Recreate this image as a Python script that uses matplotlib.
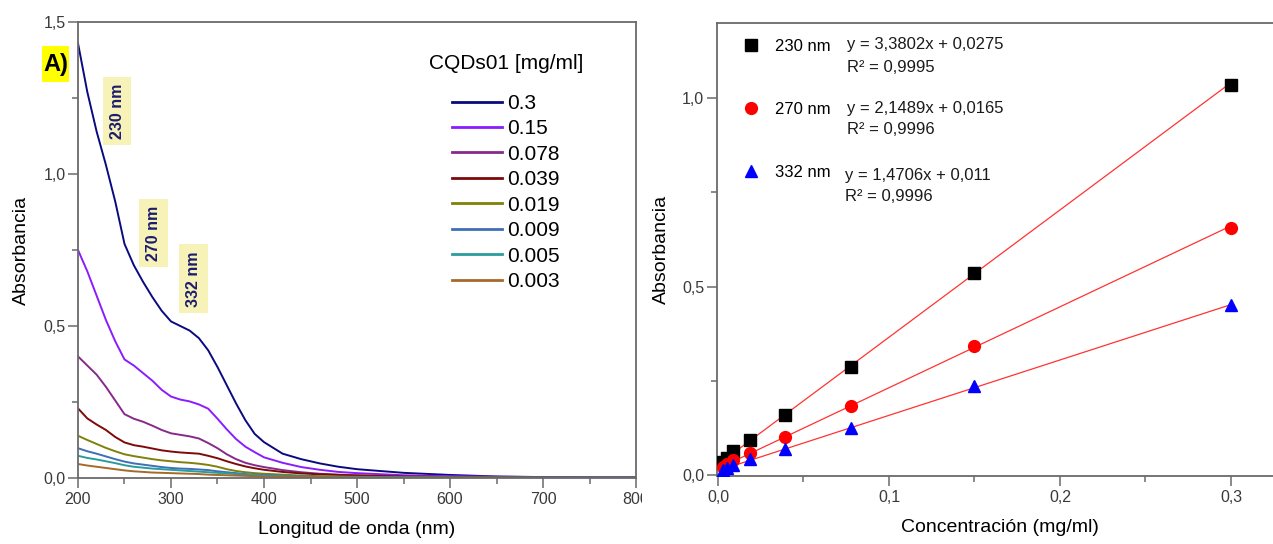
import matplotlib
matplotlib.use("Agg")
import numpy as np
import matplotlib.pyplot as plt
from matplotlib.ticker import MultipleLocator, FuncFormatter
from matplotlib.patches import Rectangle

plt.rcParams['font.family'] = ['Liberation Sans', 'DejaVu Sans']

# ---------------- UV-Vis spectra ----------------
wavelength = [200, 210, 220, 230, 240, 250, 260, 270, 280, 290, 300, 310, 320, 330,
              340, 350, 360, 370, 380, 390, 400, 420, 440, 460, 480, 500, 550, 600,
              650, 700, 750, 800]

abs_0300 = [1.43, 1.27, 1.14, 1.03, 0.91, 0.77, 0.70, 0.645, 0.595, 0.55, 0.515, 0.50,
            0.485, 0.46, 0.42, 0.365, 0.305, 0.245, 0.19, 0.145, 0.118, 0.080, 0.062,
            0.048, 0.037, 0.029, 0.017, 0.010, 0.005, 0.003, 0.002, 0.002]
abs_0150 = [0.75, 0.68, 0.60, 0.52, 0.45, 0.39, 0.37, 0.345, 0.32, 0.29, 0.268, 0.258,
            0.252, 0.242, 0.228, 0.195, 0.16, 0.128, 0.103, 0.085, 0.068, 0.050, 0.036,
            0.027, 0.020, 0.016, 0.009, 0.006, 0.004, 0.003, 0.002, 0.002]
abs_0078 = [0.40, 0.37, 0.34, 0.30, 0.255, 0.21, 0.195, 0.185, 0.172, 0.158, 0.147, 0.142,
            0.137, 0.13, 0.115, 0.098, 0.078, 0.062, 0.050, 0.042, 0.036, 0.026, 0.019,
            0.014, 0.011, 0.009, 0.005, 0.003, 0.002, 0.002, 0.001, 0.001]
abs_0039 = [0.229, 0.196, 0.176, 0.158, 0.135, 0.117, 0.108, 0.103, 0.097, 0.091, 0.087,
            0.084, 0.082, 0.080, 0.073, 0.065, 0.055, 0.046, 0.038, 0.032, 0.027, 0.020,
            0.015, 0.012, 0.010, 0.008, 0.005, 0.003, 0.002, 0.001, 0.001, 0.001]
abs_0019 = [0.139, 0.125, 0.112, 0.099, 0.088, 0.078, 0.072, 0.067, 0.062, 0.058, 0.055,
            0.052, 0.050, 0.047, 0.043, 0.037, 0.029, 0.023, 0.019, 0.016, 0.014, 0.011,
            0.008, 0.006, 0.005, 0.004, 0.003, 0.002, 0.001, 0.001, 0.001, 0.001]
abs_0009 = [0.098, 0.088, 0.080, 0.071, 0.062, 0.054, 0.048, 0.044, 0.040, 0.036, 0.033,
            0.031, 0.030, 0.028, 0.026, 0.022, 0.019, 0.016, 0.013, 0.011, 0.010, 0.007,
            0.005, 0.004, 0.003, 0.003, 0.002, 0.001, 0.001, 0.001, 0.001, 0.001]
abs_0005 = [0.073, 0.066, 0.061, 0.055, 0.049, 0.042, 0.037, 0.034, 0.031, 0.029, 0.027,
            0.025, 0.023, 0.021, 0.019, 0.017, 0.015, 0.013, 0.011, 0.010, 0.008, 0.006,
            0.004, 0.003, 0.003, 0.002, 0.001, 0.001, 0.001, 0.001, 0.001, 0.001]
abs_0003 = [0.046, 0.041, 0.037, 0.033, 0.029, 0.025, 0.022, 0.020, 0.018, 0.017, 0.016,
            0.015, 0.014, 0.013, 0.011, 0.010, 0.009, 0.008, 0.007, 0.006, 0.005, 0.004,
            0.003, 0.003, 0.002, 0.002, 0.001, 0.001, 0.001, 0.000, 0.000, 0.000]

spectra = [abs_0300, abs_0150, abs_0078, abs_0039, abs_0019, abs_0009, abs_0005, abs_0003]
spectra_labels = ["0.3", "0.15", "0.078", "0.039", "0.019", "0.009", "0.005", "0.003"]
spectra_colors = ["#0a0a80", "#8a1cff", "#862a8a", "#7d0a0a", "#80800a",
                  "#3f6fb5", "#2a9c9c", "#a56a2a"]

band_labels = ["230 nm", "270 nm", "332 nm"]
band_pos_x = [242, 281, 324]
band_pos_y = [1.207, 0.806, 0.655]

# ---------------- Calibration ----------------
conc = [0.003, 0.005, 0.009, 0.019, 0.039, 0.078, 0.15, 0.3]
abs_230 = [0.035, 0.046, 0.063, 0.093, 0.160, 0.287, 0.537, 1.035]
abs_270 = [0.022, 0.028, 0.040, 0.058, 0.100, 0.183, 0.341, 0.656]
abs_332 = [0.014, 0.018, 0.025, 0.043, 0.070, 0.125, 0.235, 0.450]
slopes = [3.3802, 2.1489, 1.4706]
intercepts = [0.0275, 0.0165, 0.011]
r_squared = [0.9995, 0.9996, 0.9996]

W, H = 1273, 544
fig = plt.figure(figsize=(W / 100, H / 100), dpi=100)


def fx(px):
    return px / W


def fy(py):
    return 1 - py / H


spine_col = "#6a6a6a"
tick_col = "#3a3a3a"


def style_axes(ax):
    for s in ax.spines.values():
        s.set_color(spine_col)
        s.set_linewidth(1.3)
    ax.tick_params(which='both', direction='out', color=spine_col, width=1.1,
                   labelcolor=tick_col, labelsize=11.5)
    ax.tick_params(which='major', length=7)
    ax.tick_params(which='minor', length=4)
    ax.tick_params(axis='y', pad=2)
    ax.tick_params(axis='x', pad=3)


def comma(v, _pos=None):
    return f"{v:.1f}".replace('.', ',')


# ---- left panel ----
ax1 = fig.add_axes([fx(78), fy(478), 558 / W, 456 / H])
for y, lab, col in zip(spectra, spectra_labels, spectra_colors):
    ax1.plot(wavelength, y, color=col, lw=1.4, label=lab)
ax1.set_xlim(200, 800)
ax1.set_ylim(0, 1.5)
ax1.xaxis.set_major_locator(MultipleLocator(100))
ax1.xaxis.set_minor_locator(MultipleLocator(50))
ax1.yaxis.set_major_locator(MultipleLocator(0.5))
ax1.yaxis.set_minor_locator(MultipleLocator(0.25))
ax1.yaxis.set_major_formatter(FuncFormatter(comma))
style_axes(ax1)
ax1.set_xlabel("Longitud de onda (nm)", fontsize=14, labelpad=10)
ax1.set_ylabel("Absorbancia", fontsize=14, labelpad=10)

for txt, bx, by in zip(band_labels, band_pos_x, band_pos_y):
    ax1.text(bx, by, txt, rotation=90, ha='center', va='center', color='#1c1c6e',
             fontsize=11.5, fontweight='bold',
             bbox=dict(boxstyle='square,pad=0.42', fc='#f7f3b8', ec='none'))

leg1 = ax1.legend(title="CQDs01 [mg/ml]", loc='upper left',
                  bbox_to_anchor=(fx(429), fy(54)), bbox_transform=fig.transFigure,
                  frameon=False, fontsize=15, title_fontsize=15, handlelength=2.4,
                  handletextpad=0.25, labelspacing=0.31, borderpad=0, borderaxespad=0)
leg1._legend_box.sep = 15
for line in leg1.get_lines():
    line.set_linewidth(2)

# panel tag
fig.add_artist(Rectangle((fx(42), fy(82)), 27 / W, 36 / H, transform=fig.transFigure,
                         fc='#ffff00', ec='none'))
fig.text(fx(55.5), fy(64), "A)", fontsize=17, fontweight='bold', ha='center',
         va='center')

# the right panel sits on top of the end of the left tick labels
fig.add_artist(Rectangle((fx(642), fy(515)), 30 / W, 35 / H, transform=fig.transFigure,
                         fc='white', ec='none', zorder=1))

# ---- right panel ----
ax2 = fig.add_axes([fx(716.6), fy(476), 565.7 / W, 453 / H])
ax2.set_zorder(2)
markers = ['s', 'o', '^']
mcolors = ['black', '#ff0000', '#0000ff']
msizes = [8, 8.5, 9]
series = [abs_230, abs_270, abs_332]
cx = np.array(conc)
for ys, m, c, ms, lab, k, b in zip(series, markers, mcolors, msizes, band_labels,
                                   slopes, intercepts):
    xf = np.array([cx.min(), cx.max()])
    ax2.plot(xf, k * xf + b, color='#ff3333', lw=0.9, zorder=2)
    ax2.plot(conc, ys, ls='none', marker=m, color=c, ms=ms, mec=c, label=lab, zorder=3)

ax2.set_xlim(-0.0008, 0.33)
ax2.set_ylim(-0.003, 1.2)
ax2.xaxis.set_major_locator(MultipleLocator(0.1))
ax2.xaxis.set_minor_locator(MultipleLocator(0.05))
ax2.yaxis.set_major_locator(MultipleLocator(0.5))
ax2.yaxis.set_minor_locator(MultipleLocator(0.25))
ax2.xaxis.set_major_formatter(FuncFormatter(comma))
ax2.yaxis.set_major_formatter(FuncFormatter(comma))
style_axes(ax2)
ax2.spines['right'].set_visible(False)
ax2.set_xlabel("Concentración (mg/ml)", fontsize=14, labelpad=10)
ax2.set_ylabel("Absorbancia", fontsize=14, labelpad=9)

leg2 = ax2.legend(loc='upper left', bbox_to_anchor=(fx(743), fy(39)),
                  bbox_transform=fig.transFigure, frameon=False, fontsize=12,
                  handlelength=1.0, handletextpad=0.9, labelspacing=2.87,
                  borderpad=0, borderaxespad=0, numpoints=1)

eq_x = [847, 847, 845]
eq_y = [45, 108, 175]
for k, b, r2, ex, ey in zip(slopes, intercepts, r_squared, eq_x, eq_y):
    eq = f"y = {k}x + {b}".replace('.', ',')
    rr = f"R² = {r2}".replace('.', ',')
    fig.text(fx(ex), fy(ey), eq, fontsize=12, ha='left', va='center', color='#1a1a1a')
    fig.text(fx(ex), fy(ey + 22), rr, fontsize=12, ha='left', va='center', color='#1a1a1a')

fig.savefig("out.png", dpi=100)
